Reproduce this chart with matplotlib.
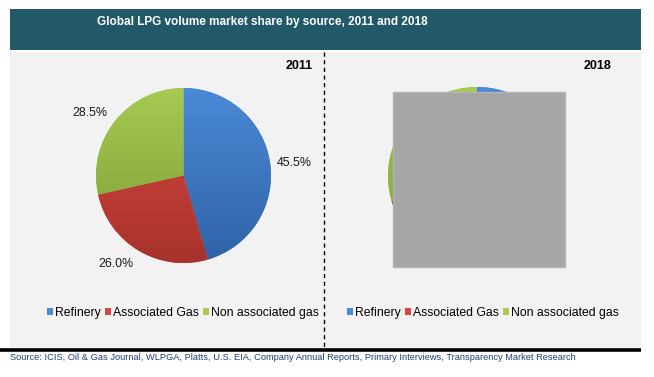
import matplotlib
matplotlib.use("Agg")
import matplotlib.pyplot as plt
import numpy as np
from matplotlib.patches import Rectangle, Patch
from matplotlib.colors import LinearSegmentedColormap
from matplotlib.transforms import offset_copy

plt.rcParams['font.family'] = ['Liberation Sans', 'DejaVu Sans']

# ---- data ----
title = "Global LPG volume market share by source, 2011 and 2018"
categories = ["Refinery", "Associated Gas", "Non associated gas"]
years = ["2011", "2018"]
share_2011 = [45.5, 26.0, 28.5]
share_2018 = [43.5, 27.0, 29.5]  # hidden behind grey box in the reference; estimated
source = ("Source: ICIS, Oil & Gas Journal, WLPGA, Platts, U.S. EIA, Company Annual Reports, "
          "Primary Interviews, Transparency Market Research")

colors_top = ["#4a8ad6", "#d8473f", "#a6ca52"]
colors_bot = ["#2f62a6", "#a7322d", "#7b9b37"]
# label nudges (pixels, x right / y down) for the 2011 percentage labels
label_nudge = [(1, 3), (-11, -7), (-7, 7)]

W, H = 654, 377
fig = plt.figure(figsize=(W / 100, H / 100), dpi=100)
fig.patch.set_facecolor("white")

def px_axes(left, top, width, height, **kw):
    return fig.add_axes([left / W, 1 - (top + height) / H, width / W, height / H], **kw)

# background axes in pixel coordinates
bg = fig.add_axes([0, 0, 1, 1])
bg.set_xlim(0, W)
bg.set_ylim(H, 0)
bg.axis("off")
bg.add_patch(Rectangle((10, 9), 631, 41, facecolor="#215968", edgecolor="none"))
bg.add_patch(Rectangle((10, 52), 631, 297, facecolor="#f2f2f2", edgecolor="none"))
bg.plot([0, 641], [350, 350], color="black", lw=2.6, solid_capstyle="butt")
bg.plot([324, 324], [52, 349], color="black", lw=1.0, linestyle=(0, (3, 2.5)))
bg.text(262, 22, title, color="white", fontsize=8.5, fontweight="bold",
        ha="center", va="center")
bg.text(10, 357, source, color="#1f3f73", fontsize=6.7, ha="left", va="center")
bg.text(313, 66, years[0], fontsize=9, fontweight="bold", ha="right", va="center")
bg.text(611, 66, years[1], fontsize=9, fontweight="bold", ha="right", va="center")


def gradient_pie(ax, values, labels_on):
    kw = {}
    if labels_on:
        kw = dict(autopct="%.1f%%", pctdistance=1.27,
                  textprops=dict(fontsize=8.9, color="#1a1a1a"))
    res = ax.pie(values, colors=colors_top, startangle=90, counterclock=False,
                 radius=1.0, wedgeprops=dict(edgecolor="none", linewidth=0), **kw)
    wedges = res[0]
    grad = np.linspace(0, 1, 256).reshape(-1, 1)
    for w, ct, cb in zip(wedges, colors_top, colors_bot):
        cmap = LinearSegmentedColormap.from_list("g", [ct, cb])
        im = ax.imshow(grad, cmap=cmap, extent=(-1, 1, -1, 1), origin="upper",
                       aspect="auto", zorder=w.get_zorder() + 0.1)
        im.set_clip_path(w)
    ax.set_xlim(-1, 1)
    ax.set_ylim(-1, 1)
    ax.set_aspect("equal")
    ax.axis("off")
    return res

ax1 = px_axes(96, 88, 175, 175)
res1 = gradient_pie(ax1, share_2011, True)
for t, (dx, dy) in zip(res1[2], label_nudge):
    t.set_transform(offset_copy(t.get_transform(), fig=fig, x=dx, y=-dy, units="dots"))

ax2 = px_axes(388, 87, 178, 178)
gradient_pie(ax2, share_2018, False)

# grey box covering the 2018 pie
cover = fig.add_axes([0, 0, 1, 1], zorder=5)
cover.set_xlim(0, W)
cover.set_ylim(H, 0)
cover.axis("off")
cover.add_patch(Rectangle((393, 92), 172, 175, facecolor="#a6a6a6",
                          edgecolor="#b4b4b4", lw=1))

handles = [Patch(facecolor=c, edgecolor="none") for c in colors_top]
for cx in (183 / W, 483 / W):
    fig.legend(handles, categories, loc="center", bbox_to_anchor=(cx, 1 - 313 / H),
               ncol=3, frameon=False, fontsize=8.8, handlelength=0.5,
               handleheight=0.5, handletextpad=0.2, columnspacing=0.3,
               borderaxespad=0, borderpad=0)

fig.savefig("out.png", dpi=100, facecolor="white")
